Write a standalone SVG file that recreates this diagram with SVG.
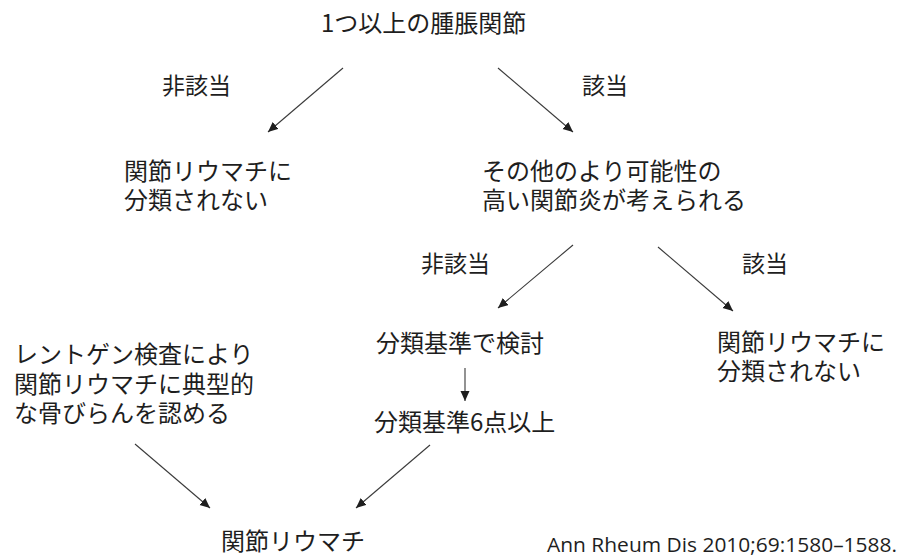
<svg xmlns="http://www.w3.org/2000/svg" width="901" height="558" viewBox="0 0 901 558">
<style>
text{font-family:"Noto Sans CJK JP","Noto Sans CJK SC",sans-serif;font-size:24px;fill:#1e1e1e}
.lbl{font-size:23px}
.cite{font-family:"Open Sans","Liberation Sans",sans-serif;font-size:19.5px}
.c line{stroke:#3a3a3a;stroke-width:1.1;marker-end:url(#ah)}
</style>
<defs>
<marker id="ah" markerUnits="userSpaceOnUse" markerWidth="12" markerHeight="10" refX="10" refY="4.5" orient="auto">
<path d="M0,0 L10,4.5 L0,9 Z" fill="#1e1e1e"/>
</marker>
</defs>
<rect width="901" height="558" fill="#fff"/>
<g class="c" id="connectors">
<line x1="343" y1="68" x2="268" y2="132"/>
<line x1="498" y1="68" x2="573" y2="132"/>
<line x1="573" y1="245" x2="498" y2="308"/>
<line x1="658" y1="247" x2="733" y2="311"/>
<line x1="465" y1="368" x2="465" y2="401"/>
<line x1="135" y1="444" x2="210" y2="508"/>
<line x1="430" y1="445" x2="356" y2="508"/>
</g>
<g id="n-start"><text x="321" y="32">1つ以上の腫脹関節</text></g>
<g id="lbl-no1"><text class="lbl" x="162" y="94">非該当</text></g>
<g id="lbl-yes1"><text class="lbl" x="582" y="94">該当</text></g>
<g id="n-notra1"><text x="124" y="180">関節リウマチに</text><text x="124" y="209">分類されない</text></g>
<g id="n-other"><text x="482" y="180">その他のより可能性の</text><text x="482" y="209">高い関節炎が考えられる</text></g>
<g id="lbl-no2"><text class="lbl" x="421" y="272">非該当</text></g>
<g id="lbl-yes2"><text class="lbl" x="742" y="272">該当</text></g>
<g id="n-criteria"><text x="376" y="352">分類基準で検討</text></g>
<g id="n-notra2"><text x="717" y="351">関節リウマチに</text><text x="717" y="380">分類されない</text></g>
<g id="n-six"><text x="374" y="431">分類基準6点以上</text></g>
<g id="n-xray"><text x="14" y="363">レントゲン検査により</text><text x="14" y="393">関節リウマチに典型的</text><text x="14" y="422">な骨びらんを認める</text></g>
<g id="n-ra"><text x="221" y="550">関節リウマチ</text></g>
<g id="cite"><text class="cite" x="547" y="552" textLength="350" lengthAdjust="spacingAndGlyphs">Ann Rheum Dis 2010;69:1580–1588.</text></g>
</svg>
